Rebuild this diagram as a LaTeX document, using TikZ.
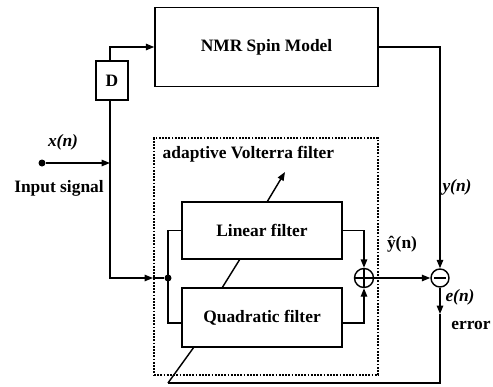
\documentclass[tikz,border=0pt]{standalone}
\usepackage{fontspec}
\setmainfont{Liberation Serif}
\usetikzlibrary{arrows.meta,calc}
\begin{document}
\begin{tikzpicture}[x=1pt,y=-1pt,line width=1.45pt,
  box/.style={draw,fill=white,inner sep=0pt,font=\bfseries\fontsize{17.4}{19}\selectfont},
  lbl/.style={inner sep=0pt,font=\bfseries\fontsize{17.4}{19}\selectfont},
  ilbl/.style={inner sep=0pt,font=\bfseries\itshape\fontsize{17.4}{19}\selectfont},
  arr/.style={-{Triangle[length=8.5pt,width=6.5pt]}},
  dotnode/.style={circle,fill,inner sep=0pt,minimum size=7pt},
  dotbox/.style={draw,line width=2pt,dash pattern=on 1.8pt off 1.4pt,inner sep=0pt}
]
\useasboundingbox (0,0) rectangle (493,386);
% adaptation arrow (behind the filter boxes)
\coordinate (dg0) at (168,383);
\coordinate (dg1) at (194,347);
\coordinate (dg2) at (222,288);
\coordinate (dg3) at (240,259);
\coordinate (dg4) at (267,202);
\coordinate (tip) at (285,172);
\draw[arr] (dg0) -- (dg1) -- (dg2) -- (dg3) -- (dg4) -- (tip);
% blocks
\node[box,minimum width=223pt,minimum height=79pt] (nmr) at (266.5,47) {NMR Spin Model};
\node[box,minimum width=32pt,minimum height=39pt] (d) at (112,80.5) {D};
\node[dotbox,minimum width=224pt,minimum height=237pt] (avf) at (266,256.5) {};
\node[box,minimum width=160pt,minimum height=57pt] (lin) at (262,230.5) {Linear filter};
\node[box,minimum width=160pt,minimum height=59pt] (quad) at (262,317.5) {Quadratic filter};
\node[circle,draw,fill=white,inner sep=0pt,minimum size=19pt] (sum) at (364,278) {};
\draw (sum.north) -- (sum.south) (sum.west) -- (sum.east);
\node[circle,draw,fill=white,inner sep=0pt,minimum size=18pt] (diff) at (440,278) {};
\draw ($(diff.west)+(4,0)$) -- ($(diff.east)+(-4,0)$);
% points
\node[dotnode] (in) at (42,163) {};
\coordinate (bus) at (110,278);
\node[dotnode] (jn) at (168,278) {};
\path (quad.west) ++(0,5.5) coordinate (qin);
\path (quad.east) ++(0,5.5) coordinate (qout);
\coordinate (etip) at (440,314);
% connectors
\draw[arr] (in) -- (in -| bus);
\draw[arr] (d.north -| bus) |- (nmr.west);
\draw[arr] (d.south -| bus) -- (bus) -- (bus -| avf.west);
\draw (bus -| avf.west) -- (jn);
\draw (lin.west) -| (jn.center) |- (qin);
\draw[arr] (lin.east) -| (sum.north);
\draw[arr] (qout) -| (sum.south);
\draw[arr] (sum.east) -- (diff.west);
\draw[arr] (nmr.east) -| (diff.north);
\draw[arr] (diff.south) -- (etip);
\draw (etip) -- (dg0 -| diff) -- (dg0);
% labels
\node[ilbl] (xl) at (63,142) {x(n)};
\node[lbl] (inl) at (59,188) {Input signal};
\node[lbl,anchor=west] (avfl) at (162,154) {adaptive Volterra filter};
\node[ilbl] (yl) at (457,187) {y(n)};
\node[lbl] (yhl) at (402,244) {\^{y}(n)};
\node[ilbl] (el) at (460,297) {e(n)};
\node[lbl] (errl) at (471,325) {error};
\end{tikzpicture}
\end{document}
